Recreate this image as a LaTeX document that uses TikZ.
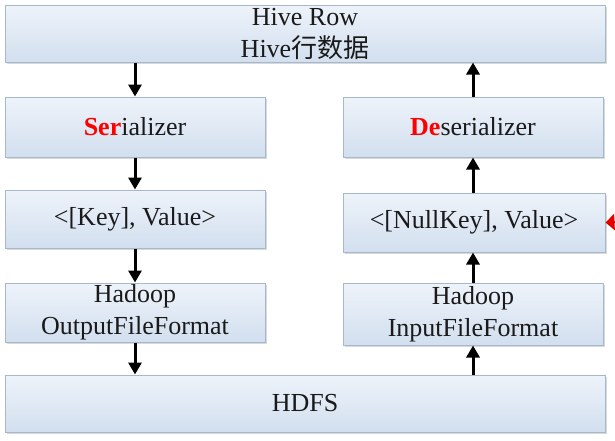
\documentclass[tikz,border=0pt]{standalone}
\usepackage{fontspec}
\usepackage{xcolor}
\usetikzlibrary{arrows.meta,shadows}
\setmainfont{Liberation Serif}
\newfontfamily\cjk{Noto Sans CJK SC}

\definecolor{boxtop}{HTML}{EEF3FA}
\definecolor{boxbottom}{HTML}{D2DFEF}
\definecolor{boxline}{HTML}{A8B8CC}
\definecolor{textdark}{HTML}{1A1A1A}

\tikzset{
  blockbox/.style={rectangle, draw=boxline, line width=1pt, inner sep=0pt,
    top color=boxtop, bottom color=boxbottom, align=center, text=textdark,
    font=\fontsize{26}{32}\selectfont,
    drop shadow={opacity=0.3, shadow xshift=1.5pt, shadow yshift=-2pt}},
  flowarrow/.style={line width=3pt, -{Triangle[width=13pt,length=12pt]}},
  feedarrow/.style={red!90!black, line width=2pt, -{Triangle[width=16pt,length=9pt]}}
}

\begin{document}
\begin{tikzpicture}[x=1pt,y=1pt]
\useasboundingbox (0,0) rectangle (615,-440);
\clip (0,0) rectangle (615,-440);

% boxes
\node[blockbox, minimum width=600pt, minimum height=57pt] (row) at (305,-33.5) {Hive Row\\Hive{\cjk 行数据}};
\node[blockbox, minimum width=260pt, minimum height=60pt] (ser) at (135,-127) {\textcolor{red}{\textbf{Ser}}ializer};
\node[blockbox, minimum width=260pt, minimum height=60pt] (deser) at (473,-127) {\textcolor{red}{\textbf{De}}serializer};
\node[blockbox, minimum width=260pt, minimum height=58pt] (key) at (135,-219) {<[Key], Value>};
\node[blockbox, minimum width=262pt, minimum height=59pt] (nullkey) at (474,-222.5) {<[NullKey], Value>};
\node[blockbox, minimum width=260pt, minimum height=59pt] (hout) at (135,-312.5) {Hadoop\\OutputFileFormat};
\node[blockbox, minimum width=260pt, minimum height=62pt] (hin) at (473,-314) {Hadoop\\InputFileFormat};
\node[blockbox, minimum width=600pt, minimum height=57pt] (hdfs) at (305,-403.5) {HDFS};

% write path
\draw[flowarrow] (row.south -| ser.north) -- (ser.north);
\draw[flowarrow] (ser) -- (key);
\draw[flowarrow] (key) -- (hout);
\draw[flowarrow] (hout.south) -- (hout.south |- hdfs.north);

% read path
\draw[flowarrow] (hdfs.north -| hin.south) -- (hin.south);
\draw[flowarrow] (hin.north) -- (hin.north |- nullkey.south);
\draw[flowarrow] (nullkey.north -| deser.south) -- (deser.south);
\draw[flowarrow] (deser.north) -- (deser.north |- row.south);

% incoming arrow at the edge
\coordinate (feed) at (616,-222);
\draw[feedarrow] (feed) -- (nullkey.east);
\end{tikzpicture}
\end{document}
